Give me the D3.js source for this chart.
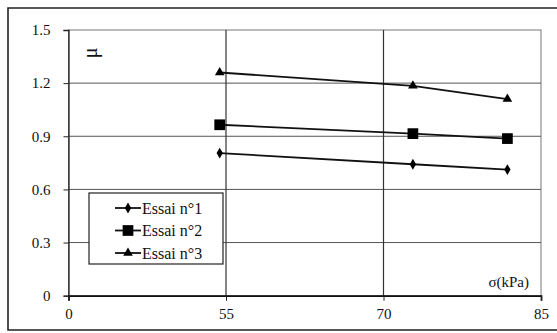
<!DOCTYPE html>
<html>
<head>
<meta charset="utf-8">
<script src="https://cdn.jsdelivr.net/npm/d3@7"></script>
<style>
  html, body { margin: 0; padding: 0; background: #fff; }
  svg { display: block; }
  svg text { font-family: "Liberation Serif", "DejaVu Serif", serif; fill: #111; }
</style>
</head>
<body>
<svg id="chart" width="557" height="333"></svg>
<script>
// Normal stress (kPa) at which each test was run
const sigma = [54.4, 72.8, 81.8];

// Friction coefficient for each test
const essai1 = [0.805, 0.742, 0.712];
const essai2 = [0.965, 0.915, 0.887];
const essai3 = [1.26, 1.185, 1.11];

const seriesNames = ["Essai n°1", "Essai n°2", "Essai n°3"];
const seriesShapes = ["diamond", "square", "triangle"];

// Axis ticks and their labels
const xTicks = [40, 55, 70, 85];
const xTickLabels = ["0", "55", "70", "85"];
const yTicks = [0, 0.3, 0.6, 0.9, 1.2, 1.5];
const yTickLabels = ["0", "0.3", "0.6", "0.9", "1.2", "1.5"];

const FONT = "'Liberation Serif', 'DejaVu Serif', serif";

const series = [essai1, essai2, essai3].map((vals, i) => ({
  name: seriesNames[i],
  shape: seriesShapes[i],
  points: vals.map((v, j) => ({ x: sigma[j], y: v }))
}));

const svg = d3.select("#chart").style("font-family", FONT);

const plot = { left: 68.5, right: 541, top: 30, bottom: 295.7 };

const x = d3.scaleLinear().domain([40, 85]).range([plot.left, plot.right]);
const y = d3.scaleLinear().domain([0, 1.5]).range([plot.bottom, plot.top]);

// Outer frame (runs off the right edge)
svg.append("path")
  .attr("d", `M560,8 L8,8 L8,330 L560,330`)
  .attr("fill", "none").attr("stroke", "#222").attr("stroke-width", 1.6);

// Plot-area border
svg.append("rect")
  .attr("x", plot.left).attr("y", plot.top)
  .attr("width", plot.right - plot.left).attr("height", plot.bottom - plot.top)
  .attr("fill", "none").attr("stroke", "#777").attr("stroke-width", 1);

// Horizontal gridlines
svg.append("g")
  .selectAll("line")
  .data(yTicks.filter(t => t > 0 && t < 1.5))
  .join("line")
  .attr("x1", plot.left).attr("x2", plot.right)
  .attr("y1", d => y(d)).attr("y2", d => y(d))
  .attr("stroke", "#555").attr("stroke-width", 1);

// Vertical gridlines
svg.append("g")
  .selectAll("line")
  .data(xTicks.filter(t => t > 40 && t < 85))
  .join("line")
  .attr("y1", plot.top).attr("y2", plot.bottom)
  .attr("x1", d => x(d)).attr("x2", d => x(d))
  .attr("stroke", "#333").attr("stroke-width", 1.2);

// Y axis
const yAxis = d3.axisLeft(y)
  .tickValues(yTicks)
  .tickFormat((d, i) => yTickLabels[i])
  .tickSize(5).tickPadding(13);
const gy = svg.append("g").attr("transform", `translate(${plot.left},0)`).call(yAxis)
  .attr("font-family", null).attr("font-size", 15);
gy.select(".domain").attr("stroke", "#222").attr("stroke-width", 1.3);
gy.selectAll(".tick line").attr("stroke", "#222");
gy.selectAll(".tick text").style("font-family", FONT).attr("fill", "#111");

// X axis
const xAxis = d3.axisBottom(x)
  .tickValues(xTicks)
  .tickFormat((d, i) => xTickLabels[i])
  .tickSize(5).tickPadding(8);
const gx = svg.append("g").attr("transform", `translate(0,${plot.bottom})`).call(xAxis)
  .attr("font-family", null).attr("font-size", 15);
gx.select(".domain").attr("stroke", "#111").attr("stroke-width", 1.8);
gx.selectAll(".tick line").attr("stroke", "#222");
gx.selectAll(".tick text").style("font-family", FONT).attr("fill", "#111");

// Axis titles
svg.append("text")
  .attr("transform", "translate(90,53) rotate(-90)")
  .attr("text-anchor", "middle").attr("dominant-baseline", "central")
  .style("font-family", FONT)
  .attr("font-size", 20).text("μ");

svg.append("text")
  .attr("x", 529).attr("y", 287)
  .attr("text-anchor", "end")
  .style("font-family", FONT)
  .attr("font-size", 15).text("σ(kPa)");

// Marker shapes
const symbols = {
  diamond: d3.symbol().type(d3.symbolDiamond).size(34),
  square: d3.symbol().type(d3.symbolSquare).size(115),
  triangle: d3.symbol().type(d3.symbolTriangle).size(40)
};

const line = d3.line().x(d => x(d.x)).y(d => y(d.y));

const gSeries = svg.append("g");
series.forEach(s => {
  gSeries.append("path")
    .attr("d", line(s.points))
    .attr("fill", "none").attr("stroke", "#111").attr("stroke-width", 1.8);
  gSeries.append("g")
    .selectAll("path")
    .data(s.points)
    .join("path")
    .attr("transform", d => `translate(${x(d.x)},${y(d.y)})`)
    .attr("d", symbols[s.shape]())
    .attr("fill", "#000");
});

// Legend
const legend = svg.append("g").attr("transform", "translate(89,193)");
legend.append("rect")
  .attr("width", 134).attr("height", 71)
  .attr("fill", "#fff").attr("stroke", "#222").attr("stroke-width", 1.2);

const rows = legend.selectAll("g.row")
  .data(series)
  .join("g")
  .attr("class", "row")
  .attr("transform", (d, i) => `translate(0,${15 + i * 22.5})`);

rows.append("line")
  .attr("x1", 26).attr("x2", 52)
  .attr("stroke", "#111").attr("stroke-width", 1.8);
rows.append("path")
  .attr("transform", "translate(39,0)")
  .attr("d", d => symbols[d.shape]())
  .attr("fill", "#000");
rows.append("text")
  .attr("x", 53).attr("y", 0)
  .attr("dominant-baseline", "central")
  .style("font-family", FONT)
  .attr("font-size", 16)
  .text(d => d.name);
</script>
</body>
</html>
